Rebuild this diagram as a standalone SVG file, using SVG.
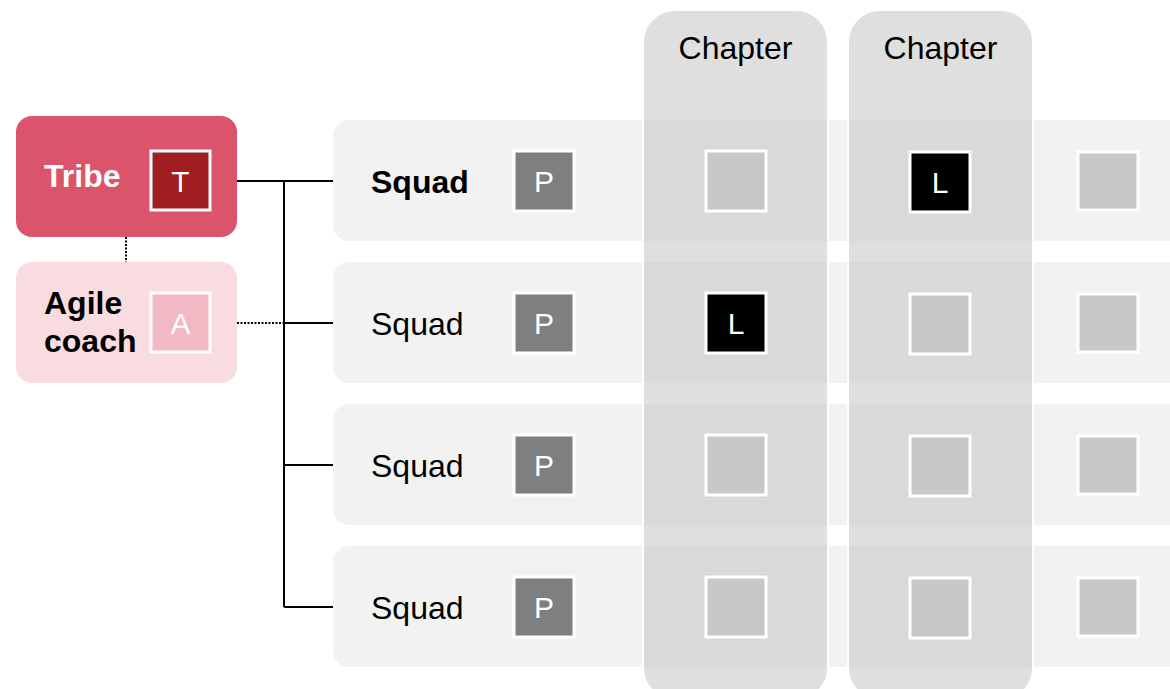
<svg xmlns="http://www.w3.org/2000/svg" width="1170" height="689" viewBox="0 0 1170 689">
<style>
.row{fill:#f2f2f2}
.chap{fill:#bfbfbf;fill-opacity:0.5;stroke:#ffffff;stroke-width:2}
.sq{fill:#c8c8c8;stroke:#ffffff;stroke-width:3}
.lead{fill:#000000;stroke:#ffffff;stroke-width:3}
.po{fill:#7f7f7f;stroke:#ffffff;stroke-width:3}
.t{font-family:"Liberation Sans",Arial,sans-serif;font-size:32px}
.s{font-size:30px}
.b{font-weight:bold}
.w{fill:#ffffff}
.k{fill:#000000}
.ln{stroke:#000000;stroke-width:2;fill:none}
.dot{stroke:#000000;stroke-width:2;fill:none;stroke-dasharray:2,1.5}
</style>
<rect width="1170" height="689" fill="#ffffff"/>
<g id="squad1"><rect class="row" x="333" y="120" width="860" height="121" rx="16"/><text class="t b k" x="371" y="193">Squad</text><rect class="po" x="514" y="151" width="60" height="60"/><text class="t s w" x="544" y="192" text-anchor="middle">P</text></g>
<g id="squad2"><rect class="row" x="333" y="262" width="860" height="121" rx="16"/><text class="t k" x="371" y="335">Squad</text><rect class="po" x="514" y="293" width="60" height="60"/><text class="t s w" x="544" y="334" text-anchor="middle">P</text></g>
<g id="squad3"><rect class="row" x="333" y="404" width="860" height="121" rx="16"/><text class="t k" x="371" y="477">Squad</text><rect class="po" x="514" y="435" width="60" height="60"/><text class="t s w" x="544" y="476" text-anchor="middle">P</text></g>
<g id="squad4"><rect class="row" x="333" y="546" width="860" height="121" rx="16"/><text class="t k" x="371" y="619">Squad</text><rect class="po" x="514" y="577" width="60" height="60"/><text class="t s w" x="544" y="618" text-anchor="middle">P</text></g>
<g id="chapter1"><rect class="chap" x="643" y="10" width="185" height="690" rx="32"/><text class="t k" x="735.5" y="59" text-anchor="middle">Chapter</text></g>
<g id="chapter2"><rect class="chap" x="848" y="10" width="185" height="690" rx="32"/><text class="t k" x="940.5" y="59" text-anchor="middle">Chapter</text></g>
<g id="members">
<rect class="sq" x="706" y="151" width="60" height="60"/>
<rect class="lead" x="910" y="152" width="60" height="60"/><text class="t s w" x="940" y="193" text-anchor="middle">L</text>
<rect class="sq" x="1078" y="152" width="60" height="58"/>
<rect class="lead" x="706" y="293" width="60" height="60"/><text class="t s w" x="736" y="334" text-anchor="middle">L</text>
<rect class="sq" x="910" y="294" width="60" height="60"/>
<rect class="sq" x="1078" y="294" width="60" height="58"/>
<rect class="sq" x="706" y="435" width="60" height="60"/>
<rect class="sq" x="910" y="436" width="60" height="60"/>
<rect class="sq" x="1078" y="436" width="60" height="58"/>
<rect class="sq" x="706" y="577" width="60" height="60"/>
<rect class="sq" x="910" y="578" width="60" height="60"/>
<rect class="sq" x="1078" y="578" width="60" height="58"/>
</g>
<g id="tribe"><rect x="16" y="116" width="221" height="121" rx="16" fill="#dc546b"/><text class="t b w" x="44" y="187">Tribe</text><rect x="151" y="151" width="59" height="59" fill="#a01e22" stroke="#ffffff" stroke-width="3"/><text class="t s w" x="180.5" y="192" text-anchor="middle">T</text></g>
<g id="agile-coach"><rect x="16" y="262" width="221" height="121" rx="16" fill="#f8dce0"/><text class="t b k" x="44" y="314">Agile</text><text class="t b k" x="44" y="352">coach</text><rect x="151" y="293" width="59" height="59" fill="#f0b9c3" stroke="#ffffff" stroke-width="3"/><text class="t s w" x="180.5" y="334" text-anchor="middle">A</text></g>
<g id="connectors">
<path class="ln" d="M237 181 H333 M284 181 V607 M284 323 H333 M284 465 H333 M284 607 H333"/>
<path class="dot" d="M126 237 V262 M237 323 H284"/>
</g>
</svg>
